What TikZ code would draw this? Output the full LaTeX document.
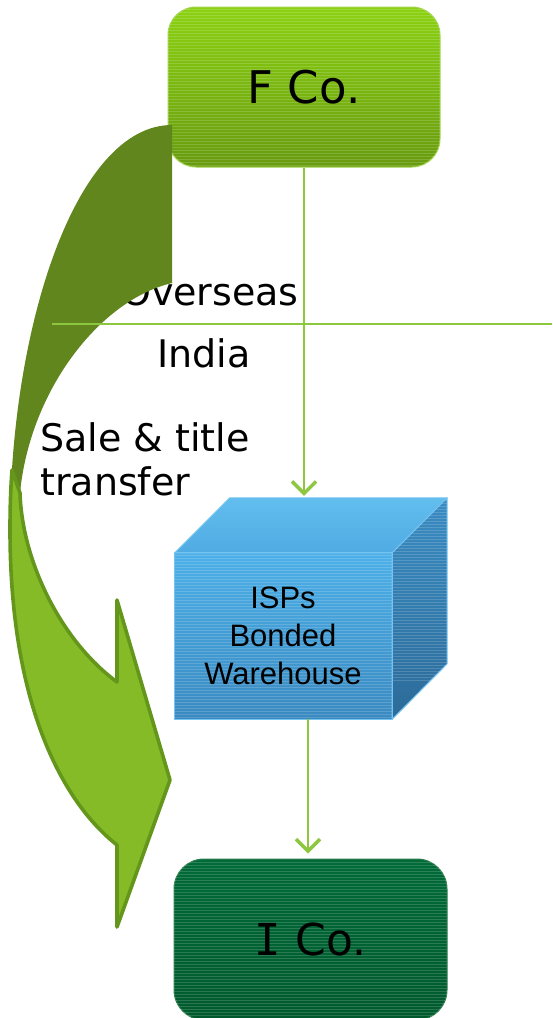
\documentclass[tikz,border=0pt]{standalone}
\usepackage{fontspec}
\setmainfont{DejaVu Sans}
\newfontfamily\arialfont{Liberation Sans}
\newfontfamily\slabI{DejaVu Sans Mono}
\usetikzlibrary{arrows.meta}

\definecolor{fcotop}{HTML}{8CD212}
\definecolor{fcobot}{HTML}{689B0F}
\definecolor{fcoedge}{HTML}{A3D34C}
\definecolor{bandback}{HTML}{62861E}
\definecolor{bandfront}{HTML}{86BB28}
\definecolor{bandedge}{HTML}{64961B}
\definecolor{flowgreen}{HTML}{8DC63F}
\definecolor{icotop}{HTML}{006A38}
\definecolor{icobot}{HTML}{005A2E}
\definecolor{icoedge}{HTML}{2E7D4C}
\definecolor{cubefronttop}{HTML}{4DB0E8}
\definecolor{cubefrontbot}{HTML}{3A8AC1}
\definecolor{cubetoptop}{HTML}{62BEEE}
\definecolor{cubetopbot}{HTML}{4FABE2}
\definecolor{cubesidetop}{HTML}{3A8CC3}
\definecolor{cubesidebot}{HTML}{2C6B99}
\definecolor{cubeedge}{HTML}{74C3F0}

% horizontal sheen lines across a clipped face
\newcommand\sheenlines[4]{%
  \foreach \k in {0,...,60} {\draw[sheen] (#1,#2+3*\k) -- (#3,#2+3*\k);}}

\begin{document}
\begin{tikzpicture}[x=1pt,y=-1pt,
  sheen/.style={white,opacity=0.16,line width=0.7pt},
  company/.style={rounded corners=28pt,minimum width=272pt,minimum height=160pt,
    inner sep=0pt,line width=1pt,text=black},
  label/.style={inner sep=0pt,text=black,font=\fontsize{38}{44}\selectfont},
  flow/.style={draw=flowgreen,line width=2pt,
    -{Straight Barb[length=12pt,width=24pt,line width=3.4pt]}},
  divider/.style={draw=flowgreen,line width=2pt}]

\useasboundingbox (0,0) rectangle (552,1018);

% ---- F Co.
\node[company,draw=fcoedge,top color=fcotop,bottom color=fcobot] (fco) at (304,87) {};
\begin{scope}
  \clip[rounded corners=28pt] (fco.south west) rectangle (fco.north east);
  \sheenlines{168}{9}{440}{167}
\end{scope}
\node[inner sep=0pt,text=black,font=\fontsize{45}{54}\selectfont] (fcotext) at (fco) {F Co.};

% ---- Overseas label (partly hidden by the curved arrow)
\node[label,anchor=base east] (overseas) at (299,305) {Overseas};

% ---- curved sale arrow: back (dark) band
\fill[bandback] (172,125) .. controls (75,125) and (10,330) .. (10,530)
  -- (20,493) .. controls (30,390) and (100,300) .. (172,283) -- cycle;
% front (light) band with head
\filldraw[fill=bandfront,draw=bandedge,line width=3.6pt,line join=round]
  (12,470) .. controls (10.5,490) and (10,510) .. (10,530)
  .. controls (10,700) and (60,800) .. (117,845)
  -- (117,927) -- (170,780) -- (117,600) -- (117,682)
  .. controls (60,640) and (22,560) .. (20,493) -- cycle;

% ---- border between Overseas and India
\coordinate (borderL) at (52,324);
\coordinate (borderR) at (552,324);
\draw[divider] (borderL) -- (borderR);

\node[label,anchor=base west] (india) at (157,367) {India};
\node[label,anchor=base west,align=left] (sale) at (40,495) {Sale \& title\\transfer};

% ---- ISPs bonded warehouse (cube)
\node[minimum width=217pt,minimum height=166pt,inner sep=0pt,
  top color=cubefronttop,bottom color=cubefrontbot] (isp) at (283.5,636) {};
\begin{scope}
  \clip (isp.south west) rectangle (isp.north east);
  \sheenlines{175}{555}{392}{719}
\end{scope}
\draw[cubeedge,line width=1pt,line join=round,top color=cubetoptop,bottom color=cubetopbot]
  (isp.north west) -- ++(55,-55) -- ([xshift=55pt,yshift=55pt]isp.north east)
  -- (isp.north east) -- cycle;
\draw[cubeedge,line width=1pt,line join=round,top color=cubesidetop,bottom color=cubesidebot]
  (isp.north east) -- ++(55,-55) -- ++(0,166) -- (isp.south east) -- cycle;
\begin{scope}
  \clip (isp.north east) -- ++(55,-55) -- ++(0,166) -- (isp.south east) -- cycle;
  \sheenlines{392}{500}{447}{719}
\end{scope}
\draw[cubeedge,line width=1pt] (isp.south west) rectangle (isp.north east);
\node[inner sep=0pt,align=center,text=black,
  font=\arialfont\fontsize{31}{38}\selectfont] (isptext) at (283,636)
  {ISPs\\Bonded\\Warehouse};
\coordinate (cubeback) at ([yshift=55pt]isp.north);

% ---- I Co.
\node[company,minimum width=273pt,minimum height=161pt,rounded corners=30pt,
  draw=icoedge,top color=icotop,bottom color=icobot] (ico) at (310.5,939.5) {};
\begin{scope}
  \clip[rounded corners=30pt] (ico.south west) rectangle (ico.north east);
  \sheenlines{174}{862}{447}{1020}
\end{scope}
\node[inner sep=0pt,text=black,font=\fontsize{44}{52}\selectfont] (icotext)
  at (ico) {{\slabI I} Co.};

% ---- goods flow
\draw[flow,shorten >=2pt] (fco.south) -- (fco.south |- cubeback);
\coordinate (dropx) at (308,0);
\draw[flow,shorten >=5pt] (isp.south -| dropx) -- (ico.north -| dropx);

\end{tikzpicture}
\end{document}
